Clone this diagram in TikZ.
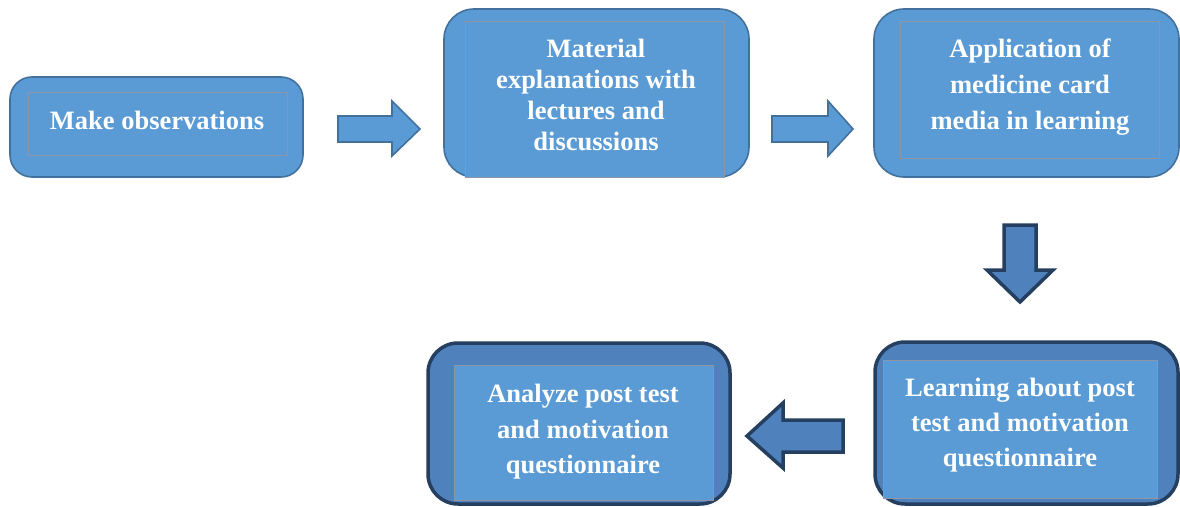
\documentclass[tikz,border=0pt]{standalone}
\usepackage{fontspec}
\setmainfont{Liberation Serif}
\definecolor{lightfill}{HTML}{5B9BD5}
\definecolor{lightedge}{HTML}{41719C}
\definecolor{darkfill}{HTML}{4F81BD}
\definecolor{darkedge}{HTML}{243F60}
\definecolor{inneredge}{HTML}{8E96A6}
\begin{document}
\begin{tikzpicture}[x=1pt,y=-1pt,
  outerlight/.style={draw=lightedge,fill=lightfill,line width=1.6pt,rounded corners=22pt,inner sep=0pt},
  outerdark/.style={draw=darkedge,fill=darkfill,line width=3.5pt,rounded corners=24pt,inner sep=0pt},
  innerbox/.style={draw=inneredge,fill=lightfill,line width=0.6pt,inner sep=0pt},
  label/.style={text=white,font=\bfseries\fontsize{26.5}{31}\selectfont,align=center},
  lightarrow/.style={draw=lightedge,fill=lightfill,line width=1.6pt,line join=miter},
  darkarrow/.style={draw=darkedge,fill=darkfill,line width=3.5pt,line join=miter}]
\useasboundingbox (0,0) rectangle (1180,506);
\begin{scope}
\clip (0,0) rectangle (1180,506);
% box 1
\draw[outerlight] (10,77) rectangle (303,177);
\node[innerbox,minimum width=259pt,minimum height=63pt] (i1) at (157.5,123.5) {};
\node[label] (t1) at (157,120) {Make observations};
% box 2
\draw[outerlight,rounded corners=30pt] (444,9) rectangle (749,177);
\node[innerbox,minimum width=259pt,minimum height=156pt] (i2) at (594.5,99) {};
\node[label] (t2) at (596,94.5) {Material\\explanations with\\lectures and\\discussions};
% box 3
\draw[outerlight,rounded corners=30pt] (874,9) rectangle (1179,177);
\node[innerbox,minimum width=259pt,minimum height=137pt] (i3) at (1029.5,89.5) {};
\node[label,font=\bfseries\fontsize{26.5}{36}\selectfont] (t3) at (1030,87) {Application of\\medicine card\\media in learning};
% box 4
\draw[outerdark,rounded corners=30pt] (875,342) rectangle (1178,504);
\node[innerbox,minimum width=274pt,minimum height=138pt] (i4) at (1020,429) {};
\node[label,font=\bfseries\fontsize{26.5}{35}\selectfont] (t4) at (1020,425) {Learning about post\\test and motivation\\questionnaire};
% box 5
\draw[outerdark,rounded corners=30pt] (428,343) rectangle (730,504);
\node[innerbox,minimum width=259pt,minimum height=135pt] (i5) at (583.5,432.5) {};
\node[label,font=\bfseries\fontsize{26.5}{35.5}\selectfont] (t5) at (583,432) {Analyze post test\\and motivation\\questionnaire};
\end{scope}
% arrows
\draw[lightarrow] (338,116) -- (392,116) -- (392,101) -- (420,129) -- (392,156) -- (392,142) -- (338,142) -- cycle;
\draw[lightarrow] (772,116) -- (828,116) -- (828,101) -- (853,129) -- (828,156) -- (828,142) -- (772,142) -- cycle;
\draw[darkarrow] (1004,225) -- (1036,225) -- (1036,270) -- (1053,270) -- (1020,302) -- (987,270) -- (1004,270) -- cycle;
\draw[darkarrow] (843,420) -- (783,420) -- (783,403) -- (747,436) -- (783,468) -- (783,452) -- (843,452) -- cycle;
\end{tikzpicture}
\end{document}
